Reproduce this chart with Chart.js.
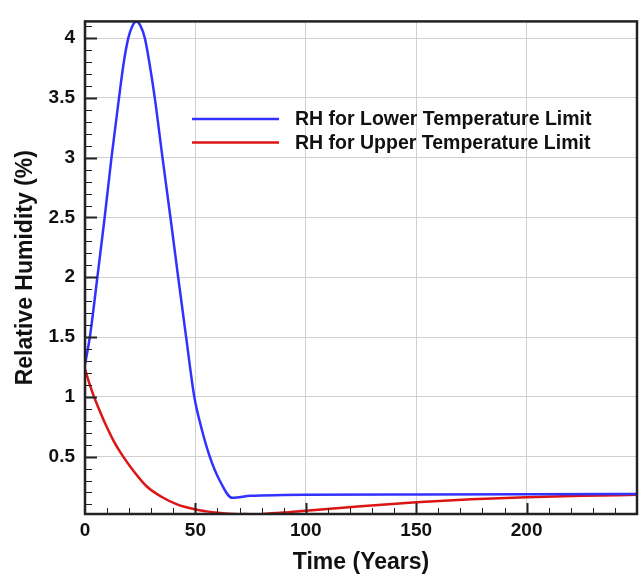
<!DOCTYPE html>
<html>
<head>
<meta charset="utf-8">
<script src="https://cdn.jsdelivr.net/npm/chart.js@4.4.1/dist/chart.umd.min.js"></script>
<style>
  html, body { margin: 0; padding: 0; background: #fff; }
  #box { width: 643px; height: 577px; }
</style>
</head>
<body>
<div id="box"><canvas id="chart"></canvas></div>
<script>
// donnees
const blueYears = [0, 2.2, 5.6, 8.9, 12.0, 15.4, 17.5, 19.6, 21.4, 23.3, 25.2, 27.1, 29.2, 31.6, 35.1, 38.7, 42.2, 45.8, 49.5, 53, 56.5, 61, 66.7, 75, 90, 100, 150, 200, 250]
const blueRH = [1.27, 1.5, 2.0, 2.5, 3.0, 3.5, 3.79, 4.0, 4.1, 4.14, 4.1, 4.0, 3.79, 3.5, 3.0, 2.5, 2.0, 1.5, 1.0, 0.72, 0.5, 0.3, 0.155, 0.172, 0.178, 0.18, 0.184, 0.186, 0.187]

const redYears = [0, 2, 4.1, 6.5, 9.3, 13, 17.3, 22, 28, 35, 41.7, 50, 55, 60, 65, 70, 75, 80, 90, 100, 125, 150, 175, 200, 225, 250]
const redRH = [1.23, 1.11, 1.0, 0.89, 0.77, 0.63, 0.5, 0.38, 0.25, 0.16, 0.1, 0.058, 0.042, 0.03, 0.022, 0.018, 0.017, 0.02, 0.032, 0.048, 0.085, 0.118, 0.143, 0.16, 0.172, 0.18]

const xTicks = [0, 50, 100, 150, 200]
const yTicks = [0.5, 1, 1.5, 2, 2.5, 3, 3.5, 4]

const labelLower = 'RH for Lower Temperature Limit'
const labelUpper = 'RH for Upper Temperature Limit'

const blue = 'rgb(50,50,255)'
const red = 'rgb(220,20,20)'
const fontName = '"Liberation Sans", Arial, Helvetica, sans-serif'

function pts(xs, ys) {
  return xs.map((x, i) => ({ x: x, y: ys[i] }))
}

// petits traits a l'interieur + cadre
const ticksInside = {
  id: 'ticksInside',
  afterDatasetsDraw(chart) {
    const ctx = chart.ctx
    const a = chart.chartArea
    const sx = chart.scales.x
    const sy = chart.scales.y
    ctx.save()
    ctx.strokeStyle = '#222'
    for (let v = 10; v < 250; v += 10) {
      const px = Math.round(sx.getPixelForValue(v)) + 0.5
      const major = v % 50 === 0
      ctx.lineWidth = major ? 2 : 1
      ctx.beginPath()
      ctx.moveTo(px, a.bottom)
      ctx.lineTo(px, a.bottom - (major ? 11 : 6))
      ctx.stroke()
    }
    for (let k = 1; k <= 41; k++) {
      const v = k / 10
      const py = Math.round(sy.getPixelForValue(v)) + 0.5
      if (py < a.top) continue
      const major = k % 5 === 0
      ctx.lineWidth = major ? 2 : 1
      ctx.beginPath()
      ctx.moveTo(a.left, py)
      ctx.lineTo(a.left + (major ? 12 : 7), py)
      ctx.stroke()
    }
    ctx.lineWidth = 2.5
    ctx.strokeStyle = '#222'
    ctx.strokeRect(a.left, a.top, a.right - a.left, a.bottom - a.top)
    ctx.restore()
  }
}

const legendBox = {
  id: 'legendBox',
  afterDraw(chart) {
    const ctx = chart.ctx
    const items = chart.data.datasets
    ctx.save()
    ctx.font = 'bold 19.5px ' + fontName
    ctx.textBaseline = 'middle'
    items.forEach((d, i) => {
      const y = 119 + i * 23.5
      ctx.strokeStyle = d.borderColor
      ctx.lineWidth = 2.5
      ctx.beginPath()
      ctx.moveTo(192, y)
      ctx.lineTo(279, y)
      ctx.stroke()
      ctx.fillStyle = '#111'
      ctx.fillText(d.label, 295, y + 1)
    })
    ctx.restore()
  }
}

new Chart(document.getElementById('chart'), {
  type: 'line',
  data: {
    datasets: [{
      label: labelLower,
      data: pts(blueYears, blueRH),
      borderColor: blue,
      borderWidth: 2.5,
      pointRadius: 0,
      cubicInterpolationMode: 'monotone'
    }, {
      label: labelUpper,
      data: pts(redYears, redRH),
      borderColor: red,
      borderWidth: 2.5,
      pointRadius: 0,
      cubicInterpolationMode: 'monotone'
    }]
  },
  options: {
    responsive: true,
    maintainAspectRatio: false,
    animation: false,
    layout: { padding: { top: 8, right: 6, left: 0, bottom: 0 } },
    plugins: { legend: { display: false }, tooltip: { enabled: false } },
    scales: {
      x: {
        type: 'linear',
        min: 0,
        max: 250,
        afterBuildTicks: s => { s.ticks = xTicks.map(v => ({ value: v })) },
        afterFit: s => { s.height = 63 },
        grid: { color: '#d0d0d0', drawTicks: false },
        border: { display: false },
        ticks: { color: '#111', padding: 5, maxRotation: 0, font: { family: fontName, size: 19, weight: 'bold' } },
        title: { display: true, text: 'Time (Years)', color: '#111', padding: { top: 0, bottom: 1 }, font: { family: fontName, size: 23, weight: 'bold' } }
      },
      y: {
        min: 0.02,
        max: 4.14,
        afterBuildTicks: s => { s.ticks = yTicks.map(v => ({ value: v })) },
        afterFit: s => { s.width = 85 },
        grid: { color: '#d0d0d0', drawTicks: false },
        border: { display: false },
        ticks: { color: '#111', padding: 10, callback: v => String(v), font: { family: fontName, size: 19, weight: 'bold' } },
        title: { display: true, text: 'Relative Humidity (%)', color: '#111', padding: { top: 12, bottom: 0 }, font: { family: fontName, size: 23, weight: 'bold' } }
      }
    }
  },
  plugins: [ticksInside, legendBox]
})
</script>
</body>
</html>
